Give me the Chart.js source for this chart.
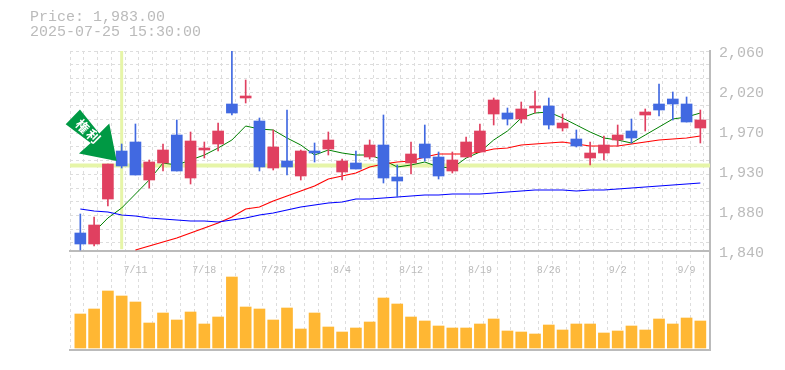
<!DOCTYPE html>
<html>
<head>
<meta charset="utf-8">
<title>Price chart</title>
<script src="https://cdn.jsdelivr.net/npm/chart.js@4"></script>
<style>
  html, body { margin: 0; padding: 0; background: #fff; }
  #wrap { position: relative; width: 785px; height: 370px; overflow: hidden; }
  #chart { position: absolute; left: 0; top: 0; }
  .head { position: absolute; left: 30px; font: 15px/15px "Liberation Mono", monospace; color: #bbb; white-space: pre; }
</style>
</head>
<body>
<div id="wrap">
  <canvas id="chart" width="785" height="370"></canvas>
  <div class="head" style="top:10px">Price: 1,983.00</div>
  <div class="head" style="top:25px">2025-07-25 15:30:00</div>
</div>
<script>
// Candles, one entry per trading day
const opens = [1859.8,1847.7,1897.2,1950,1959.9,1918.1,1936.8,1967.6,1920.3,1951.1,1957.7,2001.7,2008.3,1983,1931.3,1939,1922.5,1950,1952.2,1926.9,1936.8,1943.4,1956.6,1921.4,1936.8,1957.7,1943.4,1928,1943.4,1948.9,1990.7,1991.8,1985.2,1997.3,1999.5,1975.3,1963.2,1942.3,1947.8,1962.1,1972,1989.6,2001.7,2007.2,2001.7,1975.3];
const closes = [1847.7,1868.6,1935.7,1933.5,1923.6,1937.9,1951.1,1928,1961,1953.3,1972,1991.8,2010.5,1932.4,1954.4,1932.4,1950,1947.8,1962.1,1939,1930.2,1956.6,1920.3,1917,1946.7,1942.3,1922.5,1940.1,1959.9,1972,2006.1,1985.2,1996.2,1999.5,1978.6,1980.8,1955.5,1947.8,1956.6,1967.6,1964.3,1992.9,1995.1,2001.7,1981.9,1984.1];
const highs = [1880.7,1877.4,1935.7,1957.7,1979.7,1940.1,1957.7,1984.1,1970.9,1959.9,1980.8,2061,2028.1,1986.3,1973.1,1995.1,1951.1,1958.8,1970.9,1941.2,1950,1962.1,1989.6,1934.6,1959.9,1978.6,1948.9,1948.9,1965.4,1979.7,2008.3,1997.3,2003.9,2016,2008.3,1990.7,1973.1,1959.9,1966.5,1978.6,1985.2,1996.2,2023.7,2014.9,2009.4,1995.1];
const lows = [1841.1,1845.5,1889.5,1931.3,1923.6,1909.3,1928,1928,1913.7,1942.3,1950,1989.6,2002.8,1928,1929.1,1923.6,1918.1,1937.9,1945.6,1918.1,1930.2,1941.2,1914.8,1899.4,1924.7,1939,1919.2,1925.8,1943.4,1948.9,1978.6,1978.6,1980.8,1991.8,1974.2,1972,1954.4,1934.6,1940.1,1955.5,1958.8,1972,1988.5,1984.1,1981.9,1958.8];
const volumes = [34000,39000,57000,52000,46000,25000,35000,28000,36000,24000,31000,71000,41000,39000,28000,40000,19000,35000,21000,16000,20000,26000,50000,44000,31000,27000,22000,20000,20000,24000,29000,17000,16000,14000,23000,18000,24000,24000,15000,17000,22000,18000,29000,24000,30000,27000];

// Moving averages, null where the line has not started yet
const maShort = [null,1860.9,1876.3,1887.3,1902.7,1918.1,1936.8,1934.6,1940.1,1945.6,1953.3,1962.1,1977.5,1974.2,1973.1,1964.3,1956.6,1945.6,1951.1,1947.8,1945.6,1945.6,1940.1,1932.4,1934.6,1937.9,1932.4,1931.3,1942.3,1948.9,1962.1,1972,1986.3,1991.8,1992.9,1986.3,1978.6,1970.9,1964.3,1962.1,1958.8,1967.6,1976.4,1985.2,1987.4,1991.8];
const maMid = [null,null,null,null,1841.1,1845.5,1849.9,1854.3,1859.8,1865.3,1870.8,1877.4,1886.2,1888.4,1895,1900.5,1906,1911.5,1919.2,1922.5,1925.8,1932.4,1935.7,1937.9,1939,1943.4,1946.7,1946.7,1946.7,1948.9,1952.2,1953.3,1956.6,1957.7,1958.8,1959.9,1957.7,1955.5,1955.5,1955.5,1957.7,1959.9,1962.1,1963.2,1964.3,1966.5];
const maLong = [1886.2,1884,1882.9,1879.6,1878.5,1876.3,1875.2,1874.1,1873,1873,1871.9,1874.1,1876.3,1879.6,1881.8,1885.1,1888.4,1890.6,1892.8,1893.9,1897.2,1897.2,1898.3,1899.4,1900.5,1901.6,1901.6,1902.7,1902.7,1902.7,1903.8,1904.9,1906,1907.1,1907.1,1907.1,1906,1907.1,1907.1,1908.2,1909.3,1910.4,1911.5,1912.6,1913.7,1914.8];

const dateTickIndex = [4, 9, 14, 19, 24, 29, 34, 39, 44];
const dateTickLabels = ["7/11", "7/18", "7/28", "8/4", "8/12", "8/19", "8/26", "9/2", "9/9"];
const priceTicks = [2060, 2016, 1972, 1928, 1884, 1840];

// Light marker lines and the arrow
const markerDay = 3;
const markerPrice = 1934;
const arrowTipPrice = 1939;
const arrowLabel = "権利";

const UP = "#e04060";
const DOWN = "#4169e1";
const GRID = "#dddddd";
const AXIS = "#bbbbbb";
const BAND = "#e6f5a8";

const X_MIN = -0.75, X_MAX = 45.7;
const PRICE_MAX = 2060, PRICE_MIN = 1731.1;   // 1,840 sits at the panel split
const days = opens.map((_, i) => i);
const candleColors = days.map(i => closes[i] >= opens[i] ? UP : DOWN);

function lineData(values) {
  return values.map((v, i) => ({ x: i, y: v }));
}

function maDataset(values, color, width) {
  return {
    type: "line", data: lineData(values), borderColor: color, borderWidth: width,
    pointRadius: 0, tension: 0, spanGaps: false, order: 6
  };
}

// Green arrow pointing at the marked candle
const arrowPlugin = {
  id: "arrow",
  afterDatasetsDraw(chart) {
    const c = chart.ctx;
    const tx = chart.scales.x.getPixelForValue(markerDay) - 5;
    const ty = chart.scales.y.getPixelForValue(arrowTipPrice);
    const pts = [[0, 0], [-37.7, -7.4], [-26, -18], [-51, -36.7], [-36.7, -51.4], [-17.4, -27.4], [-7.4, -37.4]];
    c.save();
    c.fillStyle = "#009944";
    c.beginPath();
    pts.forEach((p, i) => i ? c.lineTo(tx + p[0], ty + p[1]) : c.moveTo(tx + p[0], ty + p[1]));
    c.closePath();
    c.fill();
    c.fillStyle = "#fff";
    c.font = 'bold 13px "Noto Sans CJK JP"';
    c.textAlign = "center";
    c.textBaseline = "middle";
    [[-34, -35], [-23.4, -24.7]].forEach((p, i) => {
      c.save();
      c.translate(tx + p[0], ty + p[1]);
      c.rotate(Math.PI / 4);
      c.fillText(arrowLabel[i], 0, 0);
      c.restore();
    });
    c.restore();
  }
};

new Chart(document.getElementById("chart"), {
  data: {
    datasets: [
      { type: "line", data: [{ x: X_MIN, y: markerPrice }, { x: X_MAX, y: markerPrice }], borderColor: BAND, borderWidth: 4, pointRadius: 0, order: 9 },
      { type: "line", data: [{ x: markerDay, y: PRICE_MAX }, { x: markerDay, y: 1842 }], borderColor: BAND, borderWidth: 3, pointRadius: 0, order: 9 },
      { type: "bar", yAxisID: "yVol", data: lineData(volumes), backgroundColor: "#ffb733", barThickness: 11, grouped: false, order: 8 },
      maDataset(maLong, "#0000ff", 1.2),
      maDataset(maMid, "#ff0000", 1.2),
      maDataset(maShort, "#008000", 1),
      { type: "bar", data: days.map(i => ({ x: i, y: [lows[i], Math.min(highs[i], PRICE_MAX)] })), backgroundColor: candleColors, barThickness: 1, grouped: false, order: 3 },
      { type: "bar", data: days.map(i => ({ x: i, y: [opens[i], closes[i]] })), backgroundColor: candleColors, barThickness: 11, grouped: false, order: 2 }
    ]
  },
  options: {
    responsive: false,
    animation: false,
    layout: { padding: { left: 70, top: 51, right: 0, bottom: 20 } },
    plugins: { legend: { display: false }, tooltip: { enabled: false } },
    scales: {
      x: {
        type: "linear", position: { y: 1840 }, min: X_MIN, max: X_MAX, offset: false,
        grid: { display: false },
        border: { color: AXIS, width: 2 },
        afterBuildTicks: s => { s.ticks = dateTickIndex.map(v => ({ value: v })); },
        ticks: {
          autoSkip: false, maxRotation: 0, color: AXIS, padding: 5,
          font: { family: "Liberation Mono", size: 10 },
          callback: v => dateTickLabels[dateTickIndex.indexOf(v)]
        }
      },
      xGrid: {
        type: "linear", position: "bottom", min: X_MIN, max: X_MAX, offset: false,
        border: { color: AXIS, width: 2, dash: [3, 3] },
        grid: { color: GRID, lineWidth: 1, drawTicks: false },
        afterBuildTicks: s => { s.ticks = Array.from({ length: 47 }, (_, k) => ({ value: X_MIN + k })); },
        ticks: { display: false },
        afterFit: s => { s.height = 0; }
      },
      y: {
        type: "linear", position: "right", min: PRICE_MIN, max: PRICE_MAX,
        border: { display: false, dash: [3, 3] },
        grid: { color: GRID, lineWidth: 1, drawTicks: false },
        afterBuildTicks: s => { s.ticks = Array.from({ length: 15 }, (_, k) => ({ value: PRICE_MAX - k * 15.07 })); },
        ticks: { display: false },
        afterFit: s => { s.width = 0; }
      },
      yLabels: {
        type: "linear", position: "right", min: PRICE_MIN + 2.75, max: PRICE_MAX + 2.75,
        border: { color: AXIS, width: 2 },
        grid: { display: false, drawTicks: false },
        afterBuildTicks: s => { s.ticks = priceTicks.map(v => ({ value: v })); },
        ticks: {
          color: AXIS, padding: 9,
          font: { family: "Liberation Mono", size: 15 },
          callback: v => (Math.round(v / 10) * 10).toLocaleString("en-US")
        },
        afterFit: s => { s.width = 75; }
      },
      yVol: { type: "linear", display: false, min: -2000, max: 297000 }
    }
  },
  plugins: [arrowPlugin]
});
</script>
</body>
</html>
